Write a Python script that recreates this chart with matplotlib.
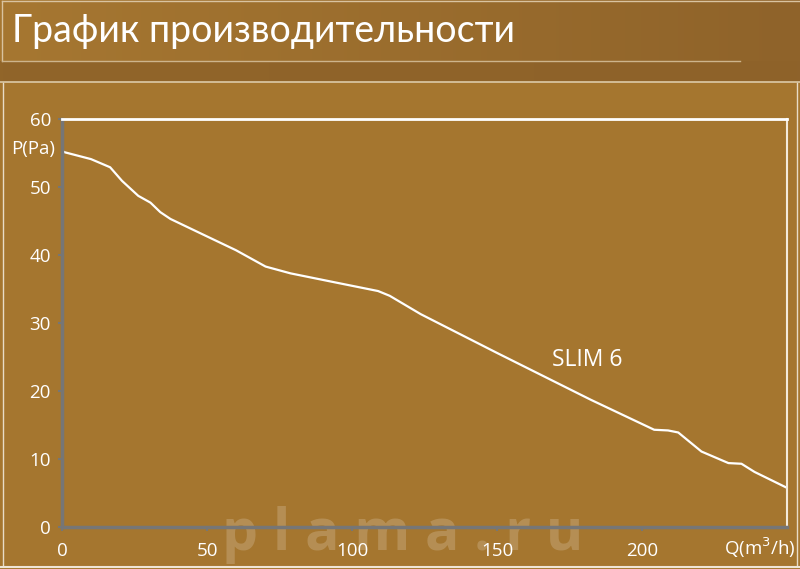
import matplotlib
matplotlib.use("Agg")
import matplotlib.pyplot as plt
import numpy as np
from matplotlib.patches import Rectangle
from matplotlib.colors import LinearSegmentedColormap

# Данные кривой SLIM 6
q_values = [0, 1, 10, 16.6, 20.7, 26.3, 30.5, 33.9, 37.4, 47.7, 60, 70.2, 78.8,
            95, 109, 113, 123.7, 150, 182.4, 204.2, 209.0, 212.5, 220.5,
            229.8, 234.3, 238.8, 249.8]
p_values = [55.3, 55.1, 54.1, 52.9, 50.9, 48.7, 47.7, 46.3, 45.3, 43.2, 40.7, 38.3, 37.3,
            35.9, 34.7, 34.0, 31.3, 25.6, 18.7, 14.3, 14.2, 13.9, 11.1,
            9.4, 9.3, 8.1, 5.8]
x_ticks = [0, 50, 100, 150, 200]
y_ticks = [0, 10, 20, 30, 40, 50, 60]

bg = "#a5762f"
W, H = 800, 569
fig = plt.figure(figsize=(8, 5.69), dpi=100, facecolor=bg)

# фон: шапка с градиентом
back = fig.add_axes([0, 0, 1, 1])
back.set_xlim(0, W)
back.set_ylim(H, 0)
back.axis("off")
grad = np.linspace(0, 1, 256).reshape(1, -1)
cm_head = LinearSegmentedColormap.from_list("h", ["#a67731", "#8f632a"])
cm_band = LinearSegmentedColormap.from_list("b", ["#916529", "#8e622a"])
back.imshow(grad, cmap=cm_head, extent=[0, W, 61, 0], aspect="auto", zorder=0)
back.imshow(grad, cmap=cm_band, extent=[0, W, 82, 61], aspect="auto", zorder=0)
back.add_patch(Rectangle((0, 82), W, H - 82, color=bg, zorder=0))
back.plot([2, W], [1, 1], color="#d9c3a0", lw=1)
back.plot([2, 2], [1, 61], color="#d9c3a0", lw=1)
back.plot([2, W - 60], [61, 61], color="#cdb48c", lw=1)
back.plot([0, W], [82, 82], color="#dccaa8", lw=1.2)
back.plot([2.5, 2.5], [83, 566], color="#e8dcc6", lw=1)
back.plot([797, 797], [83, 566], color="#e8dcc6", lw=1)
back.plot([0, W], [566.5, 566.5], color="#efe6d6", lw=1.5)
back.text(12, 31, "График производительности", color="white", fontsize=27,
          family="Lato", fontweight="normal", va="center", ha="left")
back.text(403, 535, "p l a m a . r u", color="white", alpha=0.18, fontsize=41,
          family="Open Sans", fontweight="bold", va="center", ha="center")

ax = fig.add_axes([62 / W, 1 - 527 / H, (787 - 62) / W, (527 - 119) / H])
ax.patch.set_alpha(0)
ax.plot(q_values, p_values, color="white", lw=1.6, solid_capstyle="round")
ax.set_xlim(0, 250)
ax.set_ylim(0, 60)
ax.set_xticks(x_ticks)
ax.set_yticks(y_ticks)
for s in ["left", "bottom"]:
    ax.spines[s].set_color("#767676")
    ax.spines[s].set_linewidth(2.5)
ax.spines["top"].set_color("white")
ax.spines["top"].set_linewidth(2)
ax.spines["right"].set_color("#f3eadb")
ax.spines["right"].set_linewidth(1.5)
ax.tick_params(colors="#767676", labelcolor="white", labelsize=13.5, length=3, width=1.5)
ax.tick_params(axis="x", pad=8)
ax.tick_params(axis="y", pad=5)
for lab in ax.get_xticklabels() + ax.get_yticklabels():
    lab.set_family("Open Sans")
ax.text(-2.5, 55.6, "P(Pa)", color="white", fontsize=13.5, family="Open Sans",
        ha="right", va="center", clip_on=False)
ax.text(253, -3.1, "Q(m$^3$/h)", color="white", fontsize=13.5, family="Open Sans",
        ha="right", va="center", clip_on=False)
ax.text(169, 24.5, "SLIM 6", color="white", fontsize=16.5, family="Open Sans",
        ha="left", va="center")

fig.savefig("out.png", dpi=100, facecolor=bg)
